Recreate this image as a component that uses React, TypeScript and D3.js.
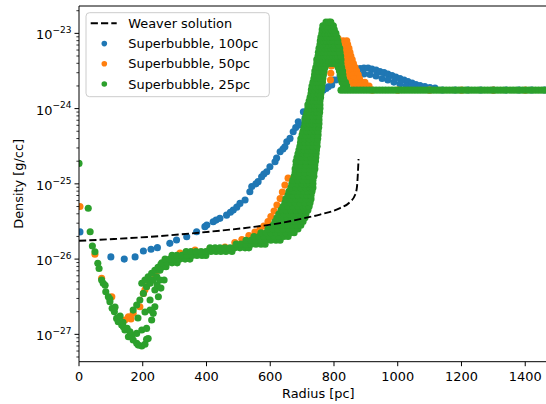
import React from 'react';
import * as d3 from 'd3';

// ---------- axis values ----------
const xTicks = [0, 200, 400, 600, 800, 1000, 1200, 1400];
const yTickExponents = [-27, -26, -25, -24, -23];
const xDomain = [0, 1500];
const yDomain = [4.33e-28, 2.31e-23];

// ---------- Weaver analytic solution ----------
const weaverRadius = [0, 110, 223, 380, 536, 631, 693, 756, 819, 850, 866, 872, 875, 877];
const weaverDensity = [1.75e-26, 1.85e-26, 1.98e-26, 2.25e-26, 2.64e-26, 3.01e-26, 3.4e-26, 3.91e-26, 4.77e-26, 5.73e-26, 7.1e-26, 9.07e-26, 1.39e-25, 2.14e-25];

// ---------- Superbubble, 100pc ----------
const sb100Points: [number, number][] = [
  [3, 2.3e-26], [100, 1.07e-26], [142, 1.0e-26], [176, 1.07e-26], [202, 1.28e-26], [226, 1.35e-26],
  [246, 1.42e-26], [285, 1.62e-26], [306, 1.79e-26], [338, 1.98e-26], [369, 2.31e-26], [395, 2.7e-26],
  [401, 2.83e-26], [421, 3.13e-26], [430, 3.3e-26], [442, 3.48e-26], [463, 3.84e-26], [475, 4.2e-26],
  [484, 4.48e-26], [495, 4.9e-26], [505, 5.5e-26], [521, 6.1e-26], [536, 7.85e-26], [542, 9.2e-26],
  [555, 1.0e-25], [562, 1.07e-25], [573, 1.24e-25], [580, 1.35e-25], [589, 1.45e-25], [599, 1.69e-25],
  [615, 1.97e-25], [620, 2.2e-25], [631, 2.67e-25], [640, 2.9e-25], [646, 3.11e-25], [652, 3.63e-25],
  [662, 4.02e-25], [672, 4.93e-25], [680, 5.6e-25], [688, 6.7e-25], [693, 6.05e-25], [704, 9.1e-25],
  [709, 7.5e-25], [715, 8.2e-25], [725, 9.5e-25], [735, 1.23e-24], [745, 1.4e-24], [751, 1.51e-24],
  [758, 1.65e-24], [766, 1.76e-24], [775, 1.85e-24], [782, 1.95e-24], [793, 2.06e-24], [798, 2.4e-24],
  [806, 2.4e-24], [819, 2.71e-24], [831, 2.97e-24], [844, 3.15e-24], [856, 3.25e-24], [869, 3.35e-24],
  [882, 3.4e-24], [894, 3.46e-24], [907, 3.46e-24], [919, 3.35e-24], [932, 3.25e-24], [944, 3.1e-24],
  [957, 3.01e-24], [969, 2.88e-24], [982, 2.75e-24], [994, 2.63e-24], [1007, 2.51e-24], [1020, 2.4e-24],
  [1032, 2.29e-24], [1045, 2.19e-24], [1057, 2.09e-24], [1070, 2.02e-24], [1085, 1.96e-24], [1101, 1.9e-24],
  [1117, 1.88e-24],
  [834, 2.4e-24], [856, 2.63e-24], [875, 2.75e-24], [894, 2.88e-24], [913, 2.84e-24], [932, 2.71e-24],
  [951, 2.51e-24], [969, 2.4e-24], [988, 2.25e-24], [1007, 2.12e-24], [1026, 2.0e-24], [1045, 1.9e-24],
  [1140, 1.77e-24], [1180, 1.77e-24], [1220, 1.77e-24], [1260, 1.77e-24], [1300, 1.77e-24],
  [1340, 1.77e-24], [1380, 1.77e-24], [1420, 1.77e-24], [1460, 1.77e-24],
];

// ---------- Superbubble, 50pc ----------
const sb50Points: [number, number][] = [
  [3, 5.0e-26], [50, 1.16e-26], [71, 5.55e-27], [103, 3.16e-27], [144, 1.55e-27], [155, 1.71e-27],
  [163, 1.6e-27], [170, 1.9e-27], [191, 2.33e-27], [202, 3.5e-27], [207, 3.9e-27], [212, 4.29e-27],
  [223, 5.0e-27], [238, 6.1e-27], [249, 7.1e-27], [260, 8.2e-27],
  [317, 1.2e-26], [364, 1.32e-26], [411, 1.38e-26], [458, 1.45e-26], [489, 1.66e-26], [511, 1.82e-26],
  [533, 2.06e-26], [552, 2.29e-26], [568, 2.51e-26], [580, 2.75e-26], [593, 3.15e-26], [602, 3.68e-26],
  [612, 4.35e-26], [621, 5.23e-26], [631, 6.37e-26], [638, 7.77e-26], [646, 9.63e-26], [656, 1.19e-25],
  [681, 1.48e-25], [684, 1.89e-25], [690, 2.57e-25], [698, 3.49e-25], [703, 4.88e-25], [712, 6.62e-25],
  [718, 9.0e-25], [724, 1.22e-24], [731, 1.66e-24], [737, 2.25e-24], [743, 3.06e-24], [749, 4.16e-24],
  [754, 5.65e-24], [760, 7.2e-24], [775, 8.15e-24], [797, 8.4e-24], [813, 8.5e-24],
  [789, 2.4e-24], [790, 2.95e-24], [792, 3.68e-24], [797, 5.3e-24], [803, 6.58e-24],
  [920, 1.76e-24], [1000, 1.76e-24], [1100, 1.76e-24], [1200, 1.76e-24], [1300, 1.76e-24], [1400, 1.76e-24], [1480, 1.76e-24],
];
// rows: [density, radius, radius, ...]
const sb50Rows: number[][] = [
  [7.94e-24, 816, 829, 840],
  [7.08e-24, 819, 831, 843],
  [6.31e-24, 822, 834, 847],
  [5.62e-24, 825, 838, 850],
  [5.01e-24, 828, 841, 853],
  [4.47e-24, 831, 844, 857],
  [3.98e-24, 834, 847, 861],
  [3.55e-24, 838, 850, 866],
  [3.16e-24, 841, 855, 871],
  [2.82e-24, 844, 860, 876],
  [2.51e-24, 847, 863, 880],
  [2.24e-24, 853, 869, 885, 897],
  [2.0e-24, 863, 878, 894, 910],
];

// ---------- Superbubble, 25pc ----------
const sb25Points: [number, number][] = [
  [0, 1.87e-25], [29, 4.73e-26], [35, 2.31e-26], [42, 1.49e-26], [50, 1.25e-26], [59, 8.8e-27],
  [63, 7.5e-27], [71, 5.27e-27], [76, 4.77e-27], [82, 4.5e-27], [84, 3.68e-27], [92, 3.16e-27],
  [97, 2.71e-27], [97, 2.95e-27], [104, 2.22e-27], [111, 2.0e-27], [113, 2.3e-27], [118, 1.63e-27],
  [123, 1.47e-27], [129, 1.75e-27], [134, 1.33e-27], [138, 1.45e-27], [144, 1.14e-27], [151, 1.2e-27],
  [155, 9.3e-28], [163, 1.0e-27], [165, 9.3e-28], [170, 8.4e-28], [181, 7.6e-28], [186, 7.2e-28],
  [197, 7.0e-28], [207, 7.4e-28], [212, 8.6e-28], [217, 8.8e-28],
  [139, 1.26e-27], [160, 1.08e-27], [181, 1.03e-27], [197, 1.14e-27], [212, 1.2e-27], [223, 2.1e-27],
  [228, 1.55e-27], [233, 1.9e-27], [238, 2.33e-27], [249, 3.16e-27], [257, 4.12e-27], [267, 5.27e-27],
  [170, 2.1e-27], [181, 2.45e-27], [191, 2.86e-27], [202, 3.5e-27], [212, 4.29e-27], [223, 4.77e-27],
  [233, 5.27e-27], [244, 5.8e-27], [254, 7.1e-27], [264, 7.9e-27],
  [197, 4.77e-27], [207, 5.27e-27], [217, 5.8e-27], [228, 6.5e-27], [238, 7.1e-27], [248, 7.8e-27], [257, 8.5e-27],
  [185, 1.65e-27], [207, 1.98e-27], [223, 2.86e-27], [238, 3.88e-27], [245, 4.52e-27], [254, 5.27e-27],
];
const sb25Rows: number[][] = [
  [7.94e-27, 273],
  [8.91e-27, 260, 276, 292, 308],
  [1.0e-26, 270, 285, 301, 317, 333, 348],
  [1.12e-26, 292, 307, 323, 339, 355, 370, 386, 398],
  [1.26e-26, 336, 351, 367, 383, 398, 414, 430, 445, 461, 480],
  [1.41e-26, 411, 427, 442, 458, 474, 489, 505, 521, 533],
  [1.58e-26, 493, 508, 524, 540, 555, 571, 584],
  [1.78e-26, 524, 540, 555, 571, 587, 602, 618, 631],
  [2.0e-26, 549, 565, 580, 596, 612, 627, 643, 656],
  [2.24e-26, 571, 587, 602, 618, 634, 649, 665, 675],
  [2.51e-26, 593, 609, 624, 640, 656, 671, 687],
  [2.82e-26, 609, 624, 640, 656, 671, 684, 696],
  [3.16e-26, 615, 631, 646, 662, 678, 690, 703],
  [3.55e-26, 621, 637, 653, 668, 684, 696, 709],
  [3.98e-26, 627, 643, 659, 675, 690, 703, 712],
  [4.47e-26, 634, 649, 665, 681, 696, 709, 718],
  [5.01e-26, 640, 656, 671, 687, 703, 712, 722],
  [5.62e-26, 646, 662, 678, 693, 709, 725],
  [6.31e-26, 649, 665, 681, 696, 712, 728],
  [7.08e-26, 656, 671, 687, 703, 715, 728],
  [7.94e-26, 659, 675, 690, 706, 718, 731],
  [8.91e-26, 665, 681, 696, 712, 725, 734],
  [1.0e-25, 668, 684, 700, 715, 725, 734],
  [1.12e-25, 671, 687, 703, 718, 734],
  [1.26e-25, 675, 690, 706, 722, 737],
  [1.41e-25, 678, 693, 709, 725, 737],
  [1.58e-25, 678, 693, 709, 725, 740],
  [1.78e-25, 681, 696, 712, 728, 740],
  [2.0e-25, 681, 696, 712, 728, 742],
  [2.24e-25, 684, 700, 715, 728, 743],
  [2.51e-25, 687, 703, 715, 731, 744],
  [2.82e-25, 690, 706, 718, 731, 745],
  [3.16e-25, 693, 706, 722, 734, 747],
  [3.55e-25, 695, 709, 722, 734, 747],
  [3.98e-25, 696, 709, 722, 737, 749],
  [4.47e-25, 700, 712, 725, 737, 750],
  [5.01e-25, 703, 715, 728, 740, 750],
  [5.62e-25, 706, 718, 731, 742, 752],
  [6.31e-25, 709, 722, 732, 743, 753],
  [7.08e-25, 709, 722, 734, 743, 753],
  [7.94e-25, 712, 725, 734, 745, 753],
  [8.91e-25, 715, 725, 737, 747, 755],
  [1.0e-24, 718, 728, 739, 748, 756],
  [1.12e-24, 718, 731, 740, 750, 756],
  [1.26e-24, 722, 733, 743, 756],
  [1.41e-24, 725, 734, 747, 758],
  [1.58e-24, 728, 737, 750, 759],
  [1.78e-24, 729, 740, 751, 761],
  [2.0e-24, 731, 742, 753, 762, 830, 840],
  [2.24e-24, 734, 745, 754, 764, 825, 836],
  [2.51e-24, 737, 747, 756, 765, 822, 830],
  [2.82e-24, 739, 750, 759, 767, 820, 828],
  [3.16e-24, 740, 751, 761, 769, 817, 827],
  [3.55e-24, 743, 753, 762, 772, 813, 824],
  [3.98e-24, 746, 756, 765, 775, 784, 794, 803, 813, 822],
  [4.47e-24, 746, 756, 765, 775, 784, 794, 803, 813, 822],
  [5.01e-24, 750, 759, 768, 778, 787, 797, 806, 813, 821],
  [5.62e-24, 751, 761, 770, 780, 789, 798, 808, 819],
  [6.31e-24, 753, 762, 772, 781, 791, 800, 810, 818],
  [7.08e-24, 756, 765, 775, 784, 794, 803, 814],
  [7.94e-24, 757, 767, 776, 786, 795, 805, 812],
  [8.91e-24, 759, 769, 778, 787, 797, 809],
  [1.0e-23, 762, 772, 781, 790, 800, 806],
  [1.12e-23, 763, 773, 782, 792, 801],
  [1.26e-23, 765, 775, 784, 794, 798],
  [1.41e-23, 775, 784, 790],
];
const ambientDensity = 1.76e-24;
const sb25AmbientRadii = [
  822, 832, 842, 852, 862, 872, 882, 892, 902, 912, 922, 932, 942, 952, 962, 972, 982, 992,
  1002, 1012, 1022, 1032, 1042, 1052, 1062, 1072, 1082, 1092, 1102, 1112, 1122, 1132, 1142, 1152,
  1162, 1172, 1182, 1192, 1202, 1212, 1222, 1232, 1242, 1252, 1262, 1272, 1282, 1292, 1302, 1312,
  1322, 1332, 1342, 1352, 1362, 1372, 1382, 1392, 1402, 1412, 1422, 1432, 1442, 1452, 1462, 1472,
  1482, 1492,
];

const seriesNames = ['Weaver solution', 'Superbubble, 100pc', 'Superbubble, 50pc', 'Superbubble, 25pc'];
const colors = { weaver: '#000000', sb100: '#1f77b4', sb50: '#ff7f0e', sb25: '#2ca02c' };

const FONT = '"DejaVu Sans", sans-serif';
const FS = 12.9;
const W = 546;
const H = 404;
const L = 79, T = 6, R = 557.1, B = 361.7;
const DOT = 3.55;

const rowsToPoints = (rows: number[][]): [number, number][] =>
  rows.flatMap(([rho, ...rs]) => rs.map((r) => [r, rho] as [number, number]));

export default function App() {
  const x = d3.scaleLinear().domain(xDomain).range([L, R]);
  const y = d3.scaleLog().domain(yDomain).range([B, T]);

  const sb100 = sb100Points;
  const sb50 = [...sb50Points, ...rowsToPoints(sb50Rows)];
  const sb25 = [
    ...sb25Points,
    ...rowsToPoints(sb25Rows),
    ...sb25AmbientRadii.map((r) => [r, ambientDensity] as [number, number]),
  ];

  const weaverLine = d3
    .line<number>()
    .x((_, i) => x(weaverRadius[i]))
    .y((d) => y(d))
    .curve(d3.curveMonotoneX)(weaverDensity) as string;

  const minor: number[] = [];
  for (let e = -28; e <= -23; e++) {
    for (let m = 2; m <= 9; m++) {
      const v = m * Math.pow(10, e);
      if (v >= yDomain[0] && v <= yDomain[1]) minor.push(v);
    }
  }

  const dots = (pts: [number, number][], color: string, key: string) =>
    pts.map(([r, rho], i) => (
      <circle key={key + i} cx={x(r)} cy={y(rho)} r={DOT} fill={color} />
    ));

  const legendRows = [23.3, 43.6, 63.8, 84.0];

  return (
    <svg
      width={W}
      height={H}
      style={{ position: 'absolute', left: 0, top: 0, display: 'block', background: '#fff' }}
      fontFamily={FONT}
    >
      <defs>
        <clipPath id="plotClip">
          <rect x={L} y={T} width={R - L} height={B - T} />
        </clipPath>
      </defs>
      <rect x={0} y={0} width={W} height={H} fill="#fff" />

      <g clipPath="url(#plotClip)">
        {dots(sb100, colors.sb100, 'b')}
        {dots(sb50, colors.sb50, 'o')}
        {dots(sb25, colors.sb25, 'g')}
        <path d={weaverLine} fill="none" stroke={colors.weaver} strokeWidth={1.9} strokeDasharray="7.2,3.1" />
      </g>

      {/* spines */}
      <line x1={L} y1={T} x2={L} y2={B} stroke="#000" strokeWidth={1} />
      <line x1={L} y1={B} x2={R} y2={B} stroke="#000" strokeWidth={1} />
      <line x1={L} y1={T} x2={R} y2={T} stroke="#000" strokeWidth={1} />
      <line x1={R} y1={T} x2={R} y2={B} stroke="#000" strokeWidth={1} />

      {/* x ticks */}
      {xTicks.map((t) => (
        <g key={'xt' + t}>
          <line x1={x(t)} x2={x(t)} y1={B} y2={B + 4.5} stroke="#000" strokeWidth={1} />
          <text x={x(t)} y={B + 19.7} fontSize={FS} textAnchor="middle" fill="#000">
            {t}
          </text>
        </g>
      ))}

      {/* y ticks */}
      {minor.map((v, i) => (
        <line key={'ym' + i} x1={L - 2.6} x2={L} y1={y(v)} y2={y(v)} stroke="#000" strokeWidth={0.8} />
      ))}
      {yTickExponents.map((e) => {
        const v = Math.pow(10, e);
        const yy = y(v);
        return (
          <g key={'yt' + e}>
            <line x1={L - 4.5} x2={L} y1={yy} y2={yy} stroke="#000" strokeWidth={1} />
            <text x={71.5} y={yy + 6} fontSize={FS} textAnchor="end" fill="#000">
              <tspan>10</tspan>
              <tspan dy={-6.3} fontSize={FS * 0.7}>{'\u2212' + Math.abs(e)}</tspan>
            </text>
          </g>
        );
      })}

      {/* axis labels */}
      <text x={318.3} y={397.7} fontSize={FS} textAnchor="middle" fill="#000">
        Radius [pc]
      </text>
      <text
        transform={`translate(22.5, ${(T + B) / 2}) rotate(-90)`}
        fontSize={FS}
        textAnchor="middle"
        fill="#000"
      >
        Density [g/cc]
      </text>

      {/* legend */}
      <rect x={86} y={12.7} width={183.3} height={84} rx={3.5} fill="#fff" fillOpacity={0.8} stroke="#cccccc" strokeWidth={1} />
      <line x1={90.7} x2={116.7} y1={legendRows[0]} y2={legendRows[0]} stroke="#000" strokeWidth={1.9} strokeDasharray="7.2,3.1" />
      <circle cx={104.3} cy={legendRows[1]} r={2.8} fill={colors.sb100} />
      <circle cx={104.3} cy={legendRows[2]} r={2.8} fill={colors.sb50} />
      <circle cx={104.3} cy={legendRows[3]} r={2.8} fill={colors.sb25} />
      {seriesNames.map((n, i) => (
        <text key={n} x={128.3} y={legendRows[i] + 4.6} fontSize={FS} fill="#000">
          {n}
        </text>
      ))}
    </svg>
  );
}
